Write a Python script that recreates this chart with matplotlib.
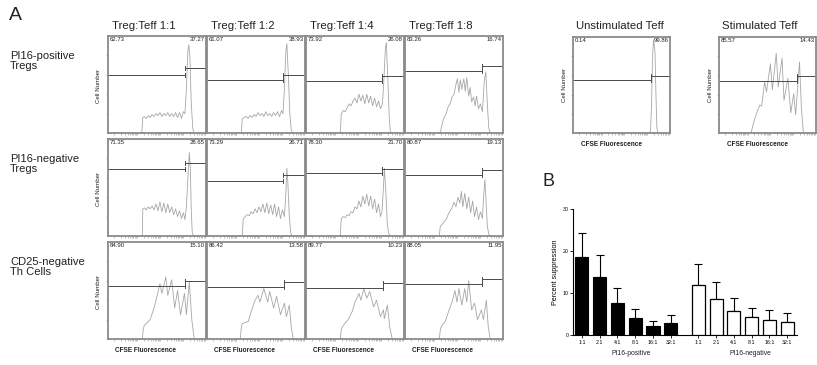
import matplotlib
matplotlib.use("Agg")
import matplotlib.pyplot as plt
import matplotlib.transforms as mtransforms
import numpy as np

plt.rcParams['font.family'] = ['Liberation Sans', 'DejaVu Sans']

W, H = 817, 365

# ---------------- Panel A data ----------------
col_titles = ["Treg:Teff 1:1", "Treg:Teff 1:2", "Treg:Teff 1:4", "Treg:Teff 1:8"]
row_labels = ["PI16-positive\nTregs", "PI16-negative\nTregs", "CD25-negative\nTh Cells"]
left_pct = [[62.73, 61.07, 73.92, 83.26],
            [71.35, 73.29, 78.30, 80.87],
            [84.90, 86.42, 89.77, 88.05]]
right_pct = [[37.27, 38.93, 26.08, 16.74],
             [28.65, 26.71, 21.70, 19.13],
             [15.10, 13.58, 10.23, 11.95]]
gate_left_h = [[0.60, 0.55, 0.54, 0.64],
               [0.69, 0.57, 0.65, 0.63],
               [0.55, 0.54, 0.53, 0.57]]
gate_right_h = [[0.67, 0.60, 0.59, 0.69],
                [0.75, 0.63, 0.69, 0.68],
                [0.60, 0.59, 0.58, 0.62]]
gate_split = [[0.79, 0.78, 0.78, 0.79],
              [0.79, 0.78, 0.78, 0.79],
              [0.79, 0.79, 0.79, 0.79]]

# CFSE histograms (x: fraction of CFSE axis, y: fraction of max count)
pos11_x = [0.345, 0.355, 0.37, 0.39, 0.41, 0.43, 0.45, 0.47, 0.49, 0.51, 0.53, 0.55, 0.57, 0.59, 0.61, 0.63,
           0.65, 0.67, 0.69, 0.71, 0.73, 0.75, 0.77, 0.785, 0.80, 0.815, 0.825, 0.835, 0.85, 0.865, 0.875]
pos11_y = [0.0, 0.16, 0.17, 0.15, 0.18, 0.16, 0.19, 0.17, 0.20, 0.18, 0.21, 0.17, 0.20, 0.18, 0.21, 0.17,
           0.20, 0.17, 0.21, 0.16, 0.21, 0.15, 0.22, 0.20, 0.45, 0.85, 0.91, 0.80, 0.30, 0.05, 0.0]
pos12_x = [0.35, 0.36, 0.38, 0.40, 0.42, 0.44, 0.46, 0.48, 0.50, 0.52, 0.54, 0.56, 0.58, 0.60, 0.62, 0.64,
           0.66, 0.68, 0.70, 0.72, 0.74, 0.76, 0.775, 0.79, 0.805, 0.815, 0.83, 0.845, 0.86, 0.87]
pos12_y = [0.0, 0.15, 0.16, 0.17, 0.15, 0.18, 0.16, 0.19, 0.17, 0.21, 0.18, 0.20, 0.17, 0.22, 0.18, 0.20,
           0.17, 0.21, 0.18, 0.22, 0.17, 0.23, 0.20, 0.45, 0.85, 0.92, 0.60, 0.20, 0.03, 0.0]
pos14_x = [0.35, 0.36, 0.38, 0.40, 0.42, 0.44, 0.46, 0.48, 0.50, 0.52, 0.54, 0.56, 0.58, 0.60, 0.62, 0.64,
           0.66, 0.68, 0.70, 0.72, 0.74, 0.76, 0.78, 0.795, 0.81, 0.82, 0.835, 0.85, 0.86, 0.87]
pos14_y = [0.0, 0.20, 0.23, 0.22, 0.26, 0.30, 0.28, 0.33, 0.36, 0.31, 0.40, 0.33, 0.39, 0.30, 0.40, 0.31,
           0.38, 0.28, 0.36, 0.27, 0.33, 0.25, 0.30, 0.55, 0.88, 0.93, 0.55, 0.15, 0.02, 0.0]
pos18_x = [0.36, 0.38, 0.40, 0.42, 0.44, 0.46, 0.48, 0.50, 0.52, 0.535, 0.55, 0.565, 0.58, 0.60, 0.615, 0.63,
           0.65, 0.665, 0.68, 0.70, 0.715, 0.73, 0.75, 0.77, 0.79, 0.81, 0.825, 0.84, 0.855, 0.87]
pos18_y = [0.0, 0.10, 0.16, 0.20, 0.27, 0.30, 0.37, 0.40, 0.50, 0.56, 0.42, 0.55, 0.45, 0.56, 0.43, 0.57,
           0.38, 0.47, 0.32, 0.37, 0.28, 0.38, 0.25, 0.30, 0.22, 0.55, 0.63, 0.30, 0.05, 0.0]

neg11_x = [0.35, 0.355, 0.37, 0.39, 0.41, 0.43, 0.45, 0.47, 0.49, 0.51, 0.53, 0.55, 0.57, 0.59, 0.61, 0.63,
           0.65, 0.67, 0.69, 0.71, 0.73, 0.75, 0.77, 0.785, 0.80, 0.815, 0.83, 0.84, 0.85, 0.86, 0.875]
neg11_y = [0.0, 0.28, 0.29, 0.27, 0.30, 0.28, 0.31, 0.27, 0.33, 0.26, 0.35, 0.25, 0.34, 0.24, 0.33, 0.24,
           0.30, 0.22, 0.28, 0.20, 0.26, 0.18, 0.24, 0.17, 0.30, 0.60, 0.86, 0.70, 0.25, 0.03, 0.0]
neg12_x = [0.36, 0.37, 0.39, 0.41, 0.43, 0.45, 0.47, 0.49, 0.51, 0.53, 0.55, 0.57, 0.59, 0.61, 0.63, 0.65,
           0.67, 0.69, 0.71, 0.73, 0.75, 0.77, 0.79, 0.805, 0.815, 0.825, 0.84, 0.855, 0.87]
neg12_y = [0.0, 0.18, 0.20, 0.22, 0.21, 0.25, 0.23, 0.28, 0.24, 0.30, 0.25, 0.33, 0.24, 0.34, 0.23, 0.32,
           0.22, 0.33, 0.20, 0.30, 0.18, 0.27, 0.20, 0.45, 0.70, 0.55, 0.20, 0.03, 0.0]
neg14_x = [0.35, 0.36, 0.38, 0.40, 0.42, 0.44, 0.46, 0.48, 0.50, 0.52, 0.54, 0.56, 0.58, 0.60, 0.62, 0.64,
           0.66, 0.68, 0.70, 0.72, 0.74, 0.76, 0.775, 0.79, 0.80, 0.815, 0.83, 0.845, 0.86]
neg14_y = [0.0, 0.18, 0.20, 0.19, 0.22, 0.21, 0.25, 0.24, 0.30, 0.28, 0.36, 0.30, 0.41, 0.33, 0.43, 0.31,
           0.41, 0.28, 0.38, 0.24, 0.33, 0.20, 0.25, 0.50, 0.70, 0.45, 0.12, 0.02, 0.0]
neg18_x = [0.35, 0.36, 0.38, 0.40, 0.42, 0.44, 0.46, 0.48, 0.50, 0.52, 0.54, 0.56, 0.575, 0.59, 0.61, 0.63,
           0.65, 0.67, 0.69, 0.71, 0.73, 0.75, 0.77, 0.79, 0.805, 0.815, 0.825, 0.84, 0.855, 0.87]
neg18_y = [0.0, 0.10, 0.12, 0.15, 0.17, 0.22, 0.26, 0.29, 0.35, 0.30, 0.40, 0.34, 0.46, 0.30, 0.44, 0.28,
           0.40, 0.24, 0.36, 0.20, 0.30, 0.17, 0.25, 0.18, 0.45, 0.58, 0.40, 0.10, 0.02, 0.0]

cd11_x = [0.35, 0.36, 0.37, 0.43, 0.47, 0.50, 0.53, 0.55, 0.59, 0.61, 0.65, 0.68, 0.71, 0.74, 0.78, 0.80,
          0.83, 0.855, 0.88]
cd11_y = [0.0, 0.10, 0.14, 0.20, 0.32, 0.44, 0.57, 0.47, 0.64, 0.45, 0.61, 0.32, 0.50, 0.25, 0.47, 0.25,
          0.59, 0.20, 0.0]
cd12_x = [0.34, 0.35, 0.36, 0.42, 0.45, 0.49, 0.52, 0.54, 0.58, 0.62, 0.64, 0.68, 0.71, 0.75, 0.79, 0.81,
          0.84, 0.86, 0.88]
cd12_y = [0.0, 0.12, 0.16, 0.18, 0.28, 0.40, 0.45, 0.38, 0.52, 0.38, 0.49, 0.32, 0.44, 0.25, 0.37, 0.23,
          0.35, 0.12, 0.0]
cd14_x = [0.35, 0.36, 0.38, 0.43, 0.47, 0.50, 0.54, 0.56, 0.59, 0.62, 0.65, 0.69, 0.72, 0.76, 0.79, 0.80,
          0.83, 0.855, 0.88]
cd14_y = [0.0, 0.10, 0.14, 0.20, 0.28, 0.38, 0.47, 0.40, 0.52, 0.42, 0.49, 0.33, 0.40, 0.23, 0.30, 0.21,
          0.35, 0.12, 0.0]
cd18_x = [0.35, 0.36, 0.37, 0.41, 0.45, 0.48, 0.51, 0.53, 0.55, 0.58, 0.61, 0.63, 0.65, 0.68, 0.71, 0.74,
          0.78, 0.80, 0.83, 0.85, 0.87]
cd18_y = [0.0, 0.09, 0.13, 0.18, 0.30, 0.38, 0.50, 0.38, 0.52, 0.35, 0.52, 0.38, 0.60, 0.30, 0.37, 0.20,
          0.30, 0.20, 0.40, 0.12, 0.0]

hist_x = [[pos11_x, pos12_x, pos14_x, pos18_x],
          [neg11_x, neg12_x, neg14_x, neg18_x],
          [cd11_x, cd12_x, cd14_x, cd18_x]]
hist_y = [[pos11_y, pos12_y, pos14_y, pos18_y],
          [neg11_y, neg12_y, neg14_y, neg18_y],
          [cd11_y, cd12_y, cd14_y, cd18_y]]

# Controls
ctrl_titles = ["Unstimulated Teff", "Stimulated Teff"]
ctrl_left_pct = [0.14, 85.57]
ctrl_right_pct = [99.86, 14.43]
ctrl_gate_left_h = [0.55, 0.54]
ctrl_gate_right_h = [0.59, 0.59]
ctrl_gate_split = [0.80, 0.80]
unstim_x = [0.79, 0.80, 0.81, 0.82, 0.83, 0.845, 0.855, 0.865, 0.875]
unstim_y = [0.0, 0.03, 0.30, 0.80, 0.97, 0.85, 0.40, 0.05, 0.0]
stim_x = [0.33, 0.36, 0.39, 0.42, 0.44, 0.47, 0.49, 0.53, 0.55, 0.59, 0.61, 0.65, 0.67, 0.71, 0.74, 0.77,
          0.79, 0.83, 0.85, 0.87]
stim_y = [0.0, 0.12, 0.21, 0.29, 0.28, 0.53, 0.43, 0.72, 0.45, 0.83, 0.48, 0.78, 0.34, 0.57, 0.21, 0.41,
          0.19, 0.74, 0.25, 0.0]
ctrl_x = [unstim_x, stim_x]
ctrl_y = [unstim_y, stim_y]

# ---------------- Panel B data ----------------
ratios = ["1:1", "2:1", "4:1", "8:1", "16:1", "32:1"]
group_names = ["PI16-positive", "PI16-negative"]
pos_mean = [18.6, 13.8, 7.6, 4.1, 2.2, 2.9]
pos_err = [5.7, 5.2, 3.5, 2.1, 1.2, 1.9]
neg_mean = [11.9, 8.5, 5.8, 4.4, 3.6, 3.2]
neg_err = [5.0, 4.1, 3.0, 2.1, 2.4, 2.0]

# ---------------- drawing ----------------
fig = plt.figure(figsize=(W / 100, H / 100), dpi=100)
fig.patch.set_facecolor('white')


def box(x0, y0, x1, y1):
    return [x0 / W, 1 - y1 / H, (x1 - x0) / W, (y1 - y0) / H]


def ftext(x, y, s, **kw):
    fig.text(x / W, 1 - y / H, s, **kw)


FRAME = '#8a8a8a'
CURVE = '#a6a6a6'
GATE = '#4a4a4a'
TXT = '#222222'

minor_pos = []
for d in range(4):
    for k in range(1, 10):
        minor_pos.append(0.06 + 0.235 * d + 0.235 * np.log10(k))
minor_pos = [m for m in minor_pos if m < 1]


def hist_panel(rect, xs, ys, lpct, rpct, hl, hr, split):
    ax = fig.add_axes(box(*rect))
    ax.set_xlim(0, 1)
    ax.set_ylim(0, 1)
    for sp in ax.spines.values():
        sp.set_color(FRAME)
        sp.set_linewidth(1.3)
    ax.plot(xs, ys, color=CURVE, lw=0.6)
    t = 0.02
    ax.plot([0, split], [hl, hl], color=GATE, lw=0.7)
    ax.plot([split, split], [hl - t, hl + t], color=GATE, lw=0.7)
    ax.plot([split, 1], [hr, hr], color=GATE, lw=0.7)
    ax.plot([split, split], [hr - t, hr + t], color=GATE, lw=0.7)
    ax.plot([1, 1], [hr - t, hr + t], color=GATE, lw=0.7)
    ax.set_yticks([0.2, 0.4, 0.6, 0.8])
    ax.set_xticks(minor_pos)
    ax.tick_params(axis='both', length=1.2, width=0.4, color=FRAME, labelleft=False, labelbottom=False,
                   direction='out')
    ax.text(0.02, 0.985, "%.2f" % lpct, transform=ax.transAxes, fontsize=4.3, va='top', ha='left', color=TXT)
    ax.text(0.99, 0.985, "%.2f" % rpct, transform=ax.transAxes, fontsize=4.3, va='top', ha='right', color=TXT)
    return ax


col_x0 = [108, 207, 306, 405]
col_w = 98
row_y0 = [36, 139, 242]
row_h = 97

ftext(9, 16, "A", fontsize=14, va='center', ha='left', color=TXT)
for c in range(4):
    ftext(col_x0[c] + 4, 26, col_titles[c], fontsize=8.2, va='center', ha='left', color=TXT)
for r in range(3):
    ftext(10, row_y0[r] + 25, row_labels[r], fontsize=8.0, va='center', ha='left', color=TXT,
          linespacing=0.95)
    ftext(98, row_y0[r] + 50, "Cell Number", fontsize=4.4, va='center', ha='center', rotation=90, color=TXT)
    for c in range(4):
        x0, y0 = col_x0[c], row_y0[r]
        hist_panel((x0, y0, x0 + col_w, y0 + row_h), hist_x[r][c], hist_y[r][c], left_pct[r][c],
                   right_pct[r][c], gate_left_h[r][c], gate_right_h[r][c], gate_split[r][c])
for c in range(4):
    ftext(col_x0[c] + 7, 350, "CFSE Fluorescence", fontsize=4.7, fontweight='bold', va='center', ha='left',
          color=TXT)

ctrl_x0 = [573, 719]
for i in range(2):
    x0 = ctrl_x0[i]
    ftext(x0 + 3, 26, ctrl_titles[i], fontsize=8.2, va='center', ha='left', color=TXT)
    hist_panel((x0, 37, x0 + 97, 133), ctrl_x[i], ctrl_y[i], ctrl_left_pct[i], ctrl_right_pct[i],
               ctrl_gate_left_h[i], ctrl_gate_right_h[i], ctrl_gate_split[i])
    ftext(x0 - 8, 85, "Cell Number", fontsize=4.4, va='center', ha='center', rotation=90, color=TXT)
    ftext(x0 + 8, 145, "CFSE Fluorescence", fontsize=4.7, fontweight='bold', va='center', ha='left', color=TXT)

# ---------------- Panel B ----------------
ftext(543, 182, "B", fontsize=13, va='center', ha='left', color=TXT)
axb = fig.add_axes(box(573, 209, 797, 335))
n = len(ratios)
gap = 1.55
xp = np.arange(n)
xn = np.arange(n) + n - 1 + gap
bw = 0.74
axb.bar(xp, pos_mean, width=bw, color='black', edgecolor='black', linewidth=0.8, zorder=3)
axb.bar(xn, neg_mean, width=bw, color='white', edgecolor='black', linewidth=0.9, zorder=3)
axb.errorbar(xp, pos_mean, yerr=[np.zeros(n), pos_err], fmt='none', ecolor='black', elinewidth=0.8,
             capsize=3, capthick=0.8, zorder=2)
axb.errorbar(xn, neg_mean, yerr=[np.zeros(n), neg_err], fmt='none', ecolor='black', elinewidth=0.8,
             capsize=3, capthick=0.8, zorder=2)
axb.set_xlim(-0.5, xn[-1] + 0.55)
axb.set_ylim(0, 30)
axb.set_yticks([0, 10, 20, 30])
axb.set_xticks(list(xp) + list(xn))
axb.set_xticklabels(ratios + ratios, fontsize=3.8)
axb.tick_params(axis='y', labelsize=3.8, length=2, width=0.6, pad=1)
axb.tick_params(axis='x', length=2, width=0.6, pad=1.5)
for s in ['top', 'right']:
    axb.spines[s].set_visible(False)
for s in ['left', 'bottom']:
    axb.spines[s].set_linewidth(0.8)
axb.set_ylabel("Percent suppression", fontsize=5.1, labelpad=3)
trans = mtransforms.blended_transform_factory(axb.transData, axb.transAxes)
axb.text(xp.mean() + 0.3, -0.15, group_names[0], transform=trans, fontsize=4.9, ha='center', va='center',
         color=TXT)
axb.text(xn.mean() + 0.45, -0.15, group_names[1], transform=trans, fontsize=4.9, ha='center', va='center',
         color=TXT)

fig.savefig("out.png", dpi=100, facecolor='white')
